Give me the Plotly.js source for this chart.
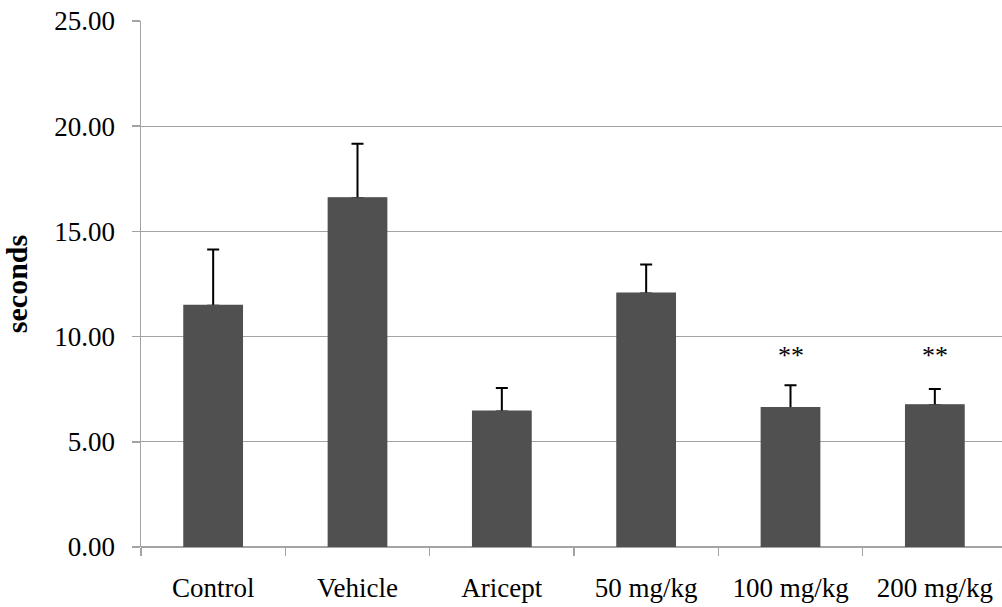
<!DOCTYPE html>
<html>
<head>
<meta charset="utf-8">
<script src="https://cdn.plot.ly/plotly-3.0.1.min.js"></script>
<style>
  html, body { margin: 0; padding: 0; overflow: hidden; background: #fff; }
  #chart { width: 1008px; height: 607px; }
</style>
</head>
<body>
<div id="chart"></div>
<script>
// Latency (seconds) per treatment group, mean with upper SEM bar
const groups = ['Control', 'Vehicle', 'Aricept', '50 mg/kg', '100 mg/kg', '200 mg/kg'];
const meanSeconds = [11.47, 16.58, 6.44, 12.05, 6.61, 6.74];
const semSeconds = [2.67, 2.59, 1.12, 1.38, 1.08, 0.77];
const significance = ['', '', '', '', '**', '**'];

const serif = '"Liberation Serif", "DejaVu Serif", serif';
const gridGray = '#a3a3a3';
const barFill = '#505050';

// bars carrying the one-sided error bars
const barsWithErr = {
  type: 'bar',
  x: groups,
  y: meanSeconds,
  width: 0.4,
  marker: { color: barFill, line: { color: '#6e6e6e', width: 1 } },
  error_y: {
    type: 'data',
    symmetric: false,
    array: semSeconds,
    arrayminus: semSeconds.map(() => 0),
    color: '#000000',
    thickness: 2,
    width: 6
  },
  hoverinfo: 'x+y'
};

// same bars drawn again on top so only the upper whisker shows
const barsCover = {
  type: 'bar',
  x: groups,
  y: meanSeconds,
  width: 0.4,
  marker: { color: barFill, line: { color: barFill, width: 2 } },
  hoverinfo: 'skip'
};

// star markers above the significant groups
const starNotes = groups
  .map((g, i) => ({ g, s: significance[i] }))
  .filter(d => d.s)
  .map(d => ({
    x: d.g, y: 9.1, xref: 'x', yref: 'y',
    text: d.s, showarrow: false,
    font: { family: serif, size: 26, color: '#000' },
    yanchor: 'middle'
  }));

const layout = {
  width: 1008,
  height: 607,
  margin: { l: 141, r: 1, t: 21, b: 60 },
  paper_bgcolor: '#ffffff',
  plot_bgcolor: '#ffffff',
  showlegend: false,
  barmode: 'overlay',
  font: { family: serif, size: 27, color: '#000' },
  xaxis: {
    type: 'category',
    range: [-0.5, 5.5],
    showgrid: false,
    zeroline: false,
    showline: false,
    ticks: 'outside',
    tickson: 'boundaries',
    ticklen: 8,
    tickwidth: 1.5,
    tickcolor: gridGray,
    ticklabelstandoff: 22,
    tickfont: { family: serif, size: 27, color: '#000' },
    fixedrange: true
  },
  yaxis: {
    range: [0, 25],
    dtick: 5,
    tick0: 0,
    tickformat: '.2f',
    showgrid: true,
    gridcolor: gridGray,
    gridwidth: 1.3,
    zeroline: true,
    zerolinecolor: gridGray,
    zerolinewidth: 1.5,
    showline: true,
    linecolor: gridGray,
    linewidth: 1.5,
    ticks: 'outside',
    ticklen: 8,
    tickwidth: 1.5,
    tickcolor: gridGray,
    ticklabelstandoff: 11,
    tickfont: { family: serif, size: 27, color: '#000' },
    title: {
      text: '<b>seconds</b>',
      font: { family: serif, size: 30, color: '#000' },
      standoff: 20
    },
    automargin: false,
    fixedrange: true
  },
  annotations: starNotes
};

Plotly.newPlot('chart', [barsWithErr, barsCover], layout, { displayModeBar: false, staticPlot: true });
</script>
</body>
</html>
